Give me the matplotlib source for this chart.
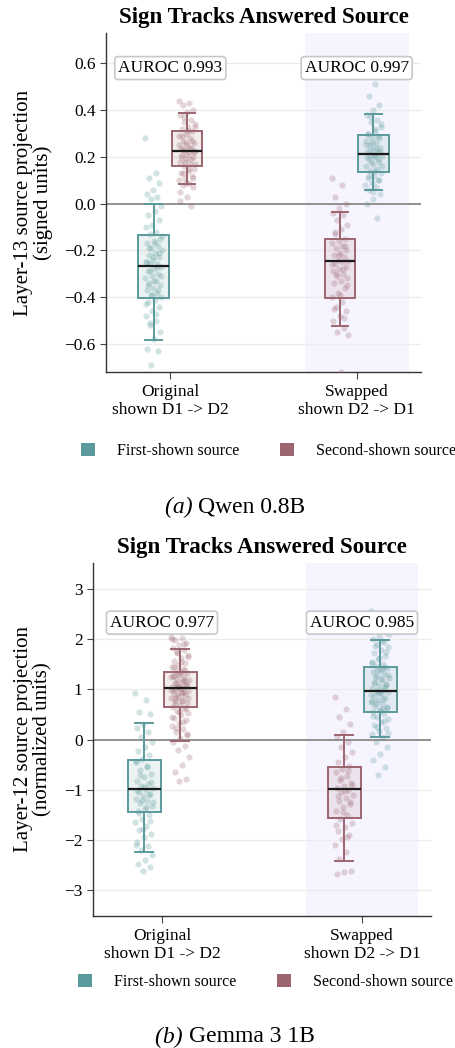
import numpy as np
import matplotlib
matplotlib.use("Agg")
import matplotlib.pyplot as plt
from matplotlib.patches import Patch

plt.rcParams['font.family'] = ['Liberation Serif', 'DejaVu Serif']

TEAL = '#5b9a9c'
MAROON = '#9c6670'

conditions = ['Original\nshown D1 -> D2', 'Swapped\nshown D2 -> D1']
series_names = ['First-shown source', 'Second-shown source']

# ---- panel (a): Qwen 0.8B, layer 13 ----
qwen_auroc = [0.993, 0.997]
# box stats per group: (whislo, q1, med, q3, whishi)
qwen_orig_first_box = (-0.583, -0.405, -0.266, -0.134, -0.002)
qwen_orig_second_box = (0.083, 0.162, 0.225, 0.311, 0.386)
qwen_swap_first_box = (0.059, 0.134, 0.211, 0.294, 0.383)
qwen_swap_second_box = (-0.525, -0.404, -0.245, -0.151, -0.037)

qwen_orig_first = [0.28, 0.13, 0.11, 0.09, 0.06, 0.04, 0.03, 0.02, -0.01, -0.03, -0.05,
                   -0.07, -0.09, -0.10, -0.12, -0.13, -0.15, -0.16, -0.17, -0.18, -0.19,
                   -0.20, -0.21, -0.22, -0.23, -0.24, -0.25, -0.26, -0.26, -0.27, -0.28,
                   -0.29, -0.30, -0.31, -0.32, -0.33, -0.34, -0.35, -0.36, -0.37, -0.38,
                   -0.39, -0.40, -0.41, -0.42, -0.44, -0.46, -0.48, -0.50, -0.52, -0.55,
                   -0.58, -0.62, -0.63, -0.69, -0.14, -0.17, -0.19, -0.21, -0.23, -0.25,
                   -0.27, -0.29, -0.31, -0.33, -0.35, -0.37, -0.39, -0.43, -0.47, -0.51]
qwen_orig_second = [0.44, 0.43, 0.42, 0.40, 0.39, 0.38, 0.36, 0.35, 0.34, 0.33, 0.32, 0.31,
                    0.30, 0.29, 0.28, 0.27, 0.26, 0.25, 0.24, 0.235, 0.23, 0.225, 0.22,
                    0.21, 0.20, 0.19, 0.18, 0.17, 0.16, 0.15, 0.14, 0.13, 0.12, 0.11, 0.10,
                    0.09, 0.08, 0.07, 0.03, 0.01, -0.01, 0.37, 0.33, 0.31, 0.29, 0.27,
                    0.26, 0.25, 0.24, 0.23, 0.22, 0.21, 0.20, 0.19, 0.18, 0.17, 0.15, 0.13,
                    0.11, 0.09, 0.05]
qwen_swap_first = [0.55, 0.51, 0.46, 0.42, 0.40, 0.38, 0.36, 0.35, 0.33, 0.31, 0.30, 0.29,
                   0.28, 0.27, 0.26, 0.25, 0.24, 0.23, 0.22, 0.215, 0.21, 0.205, 0.20, 0.19,
                   0.18, 0.17, 0.16, 0.15, 0.14, 0.13, 0.12, 0.11, 0.10, 0.09, 0.08, 0.07,
                   0.06, 0.04, 0.02, 0.0, -0.06, 0.37, 0.34, 0.32, 0.30, 0.28, 0.26, 0.25,
                   0.24, 0.23, 0.22, 0.21, 0.20, 0.19, 0.18, 0.16, 0.14, 0.12, 0.10, 0.05]
qwen_swap_second = [0.11, 0.08, 0.03, 0.0, -0.02, -0.04, -0.05, -0.07, -0.09, -0.11, -0.13,
                    -0.15, -0.16, -0.17, -0.18, -0.19, -0.20, -0.21, -0.22, -0.23, -0.24,
                    -0.245, -0.25, -0.26, -0.27, -0.28, -0.29, -0.30, -0.31, -0.32, -0.33,
                    -0.34, -0.36, -0.38, -0.40, -0.42, -0.44, -0.46, -0.48, -0.50, -0.53,
                    -0.55, -0.56, -0.72, -0.12, -0.18, -0.22, -0.26, -0.28, -0.30, -0.35,
                    -0.39, -0.45, -0.49]

# ---- panel (b): Gemma 3 1B, layer 12 ----
gemma_auroc = [0.977, 0.985]
gemma_orig_first_box = (-2.25, -1.45, -0.98, -0.41, 0.33)
gemma_orig_second_box = (-0.02, 0.65, 1.03, 1.35, 1.81)
gemma_swap_first_box = (0.05, 0.55, 0.97, 1.45, 1.98)
gemma_swap_second_box = (-2.42, -1.57, -0.98, -0.55, 0.09)

gemma_orig_first = [0.93, 0.78, 0.55, 0.50, 0.30, 0.22, 0.15, 0.05, -0.05, -0.15, -0.22,
                    -0.30, -0.38, -0.45, -0.52, -0.60, -0.68, -0.75, -0.82, -0.88, -0.93,
                    -0.97, -1.00, -1.04, -1.08, -1.13, -1.18, -1.22, -1.27, -1.32, -1.38,
                    -1.43, -1.50, -1.58, -1.65, -1.72, -1.80, -1.88, -1.95, -2.05, -2.12,
                    -2.20, -2.30, -2.40, -2.48, -2.55, -2.63, -0.42, -0.55, -0.70, -0.85,
                    -0.95, -1.02, -1.10, -1.20, -1.25, -1.35, -1.47, -1.62, -1.78, -2.10]
gemma_orig_second = [2.05, 2.02, 1.98, 1.93, 1.88, 1.82, 1.78, 1.72, 1.68, 1.62, 1.57, 1.52,
                     1.48, 1.44, 1.40, 1.36, 1.33, 1.30, 1.27, 1.24, 1.21, 1.18, 1.15, 1.12,
                     1.09, 1.06, 1.04, 1.02, 1.00, 0.97, 0.94, 0.91, 0.88, 0.85, 0.82, 0.79,
                     0.76, 0.72, 0.68, 0.65, 0.61, 0.57, 0.53, 0.48, 0.43, 0.38, 0.32, 0.26,
                     0.20, 0.14, 0.08, 0.02, -0.05, -0.12, -0.20, -0.35, -0.50, -0.65,
                     -0.78, -0.82, 2.00, 1.90, 1.75, 1.65, 1.55, 1.45, 1.38, 1.31, 1.25,
                     1.19, 1.13, 1.08, 1.03, 0.99, 0.95, 0.89, 0.83, 0.77, 0.70, 0.62,
                     0.55, 0.45, 0.35, 0.22, 0.10, 1.34, 1.26, 1.16, 1.05, 0.98, 0.92, 0.80]
gemma_swap_first = [2.57, 2.45, 2.30, 2.15, 2.05, 2.00, 1.95, 1.90, 1.84, 1.78, 1.72, 1.66,
                    1.60, 1.55, 1.50, 1.46, 1.42, 1.38, 1.34, 1.30, 1.26, 1.22, 1.18, 1.14,
                    1.10, 1.06, 1.02, 0.99, 0.97, 0.94, 0.90, 0.86, 0.82, 0.78, 0.74, 0.70,
                    0.66, 0.62, 0.58, 0.55, 0.50, 0.45, 0.40, 0.34, 0.28, 0.22, 0.16, 0.10,
                    0.05, -0.05, -0.15, -0.28, -0.40, -0.55, -0.70, 2.10, 1.97, 1.86, 1.75,
                    1.63, 1.52, 1.44, 1.36, 1.28, 1.20, 1.12, 1.04, 0.96, 0.88, 0.80, 0.72,
                    0.64, 0.56, 0.47, 0.36, 0.25, 0.12, 1.40, 1.24, 1.08, 0.92, 0.76, 0.60]
gemma_swap_second = [0.85, 0.60, 0.45, 0.30, 0.15, 0.05, -0.05, -0.15, -0.25, -0.35, -0.45,
                     -0.52, -0.58, -0.65, -0.72, -0.80, -0.86, -0.92, -0.96, -1.00, -1.05,
                     -1.10, -1.16, -1.22, -1.28, -1.35, -1.42, -1.50, -1.58, -1.66, -1.75,
                     -1.82, -1.90, -1.98, -2.10, -2.25, -2.38, -2.62, -2.65, -2.68, -0.62,
                     -0.76, -0.90, -1.02, -1.13, -1.25, -1.45, -1.70, -1.95]


def draw_panel(ax, boxes, points, aurocs, auroc_y, ylim, yticks, ylabel, fmt):
    ax.axvspan(0.72, 1.28, color='#f6f4ff', zorder=0, lw=0)
    ax.set_axisbelow(True)
    ax.yaxis.grid(True, color='#ececec', lw=1.0)
    ax.axhline(0, color='#8a8a8a', lw=1.3, zorder=1)

    offsets = [-0.09, 0.09, 0.09, -0.09]  # first/second per condition
    centers = [0, 0, 1, 1]
    colors = [TEAL, MAROON, TEAL, MAROON]
    for i in range(4):
        pos = centers[i] + offsets[i]
        lo, q1, med, q3, hi = boxes[i]
        st = [dict(whislo=lo, q1=q1, med=med, q3=q3, whishi=hi, fliers=[])]
        c = colors[i]
        ax.bxp(st, positions=[pos], widths=0.165, capwidths=[0.09],
               patch_artist=True, showfliers=False,
               boxprops=dict(facecolor=matplotlib.colors.to_rgba(c, 0.12), edgecolor=c,
                             lw=1.4, zorder=2),
               whiskerprops=dict(color=c, lw=1.4, zorder=2),
               capprops=dict(color=c, lw=1.4, zorder=2),
               medianprops=dict(color='#1a1a1a', lw=1.6, zorder=4))
        y = np.array(points[i])
        n = len(y)
        jit = ((np.arange(n) * 0.6180339) % 1.0 - 0.5) * 0.09
        ax.scatter(pos + jit, y, s=20, color=c, alpha=0.27, lw=0, zorder=3)

    for k in range(2):
        ax.text(k, auroc_y, f'AUROC {aurocs[k]:.3f}', ha='center', va='center',
                fontsize=12.5, zorder=5,
                bbox=dict(boxstyle='round,pad=0.2', fc='white', ec='#c8c8c8', lw=1.2))

    ax.set_xlim(-0.345, 1.345)
    ax.set_ylim(*ylim)
    ax.set_yticks(yticks)
    ax.yaxis.set_major_formatter(matplotlib.ticker.FuncFormatter(
        lambda v, p: (fmt % v).replace('-', '\u2212')))
    ax.set_xticks([0, 1])
    ax.set_xticklabels(conditions, fontsize=12.5)
    ax.tick_params(axis='y', labelsize=12.5, length=4, color='#444444')
    ax.tick_params(axis='x', length=5, color='#444444')
    for s in ['top', 'right']:
        ax.spines[s].set_visible(False)
    for s in ['left', 'bottom']:
        ax.spines[s].set_color('#333333')
        ax.spines[s].set_linewidth(1.0)
    ax.set_ylabel(ylabel, fontsize=15, labelpad=8, linespacing=1.05)
    ax.set_title('Sign Tracks Answered Source', fontsize=16.5, fontweight='bold', pad=7)


fig = plt.figure(figsize=(4.55, 10.48), dpi=100)
W, H = 455, 1048
ax1 = fig.add_axes([106 / W, 1 - 372 / H, (421 - 106) / W, (372 - 33) / H])
ax2 = fig.add_axes([93 / W, 1 - 916 / H, (431 - 93) / W, (916 - 563) / H])

draw_panel(ax1,
           [qwen_orig_first_box, qwen_orig_second_box, qwen_swap_first_box, qwen_swap_second_box],
           [qwen_orig_first, qwen_orig_second, qwen_swap_first, qwen_swap_second],
           qwen_auroc, 0.58, (-0.72, 0.73), [-0.6, -0.4, -0.2, 0.0, 0.2, 0.4, 0.6],
           'Layer-13 source projection\n(signed units)', '%.1f')
draw_panel(ax2,
           [gemma_orig_first_box, gemma_orig_second_box, gemma_swap_first_box, gemma_swap_second_box],
           [gemma_orig_first, gemma_orig_second, gemma_swap_first, gemma_swap_second],
           gemma_auroc, 2.33, (-3.52, 3.52), [-3, -2, -1, 0, 1, 2, 3],
           'Layer-12 source projection\n(normalized units)', '%d')

handles = [Patch(facecolor=TEAL, edgecolor='none'), Patch(facecolor=MAROON, edgecolor='none')]
for yc, xl in [(1 - 451 / H, 81 / W), (1 - 982 / H, 78 / W)]:
    fig.legend(handles, series_names, loc='center left', bbox_to_anchor=(xl, yc),
               ncol=2, frameon=False, fontsize=11.5, borderpad=0, borderaxespad=0,
               handlelength=0.88, handleheight=0.88, handletextpad=1.35, columnspacing=2.6)

# captions: italic "(a)" followed by roman model name, centred as one line
renderer = fig.canvas.get_renderer()
for label, name, yc in [('(a)', 'Qwen 0.8B', 1 - 507 / H), ('(b)', 'Gemma 3 1B', 1 - 1037 / H)]:
    t1 = fig.text(0, yc, label + ' ', style='italic', fontsize=17, va='center')
    t2 = fig.text(0, yc, name, fontsize=17, va='center')
    w1 = t1.get_window_extent(renderer).width / W
    w2 = t2.get_window_extent(renderer).width / W
    x0 = 235 / W - (w1 + w2) / 2
    t1.set_x(x0)
    t2.set_x(x0 + w1)

fig.savefig('out.png', dpi=100)
